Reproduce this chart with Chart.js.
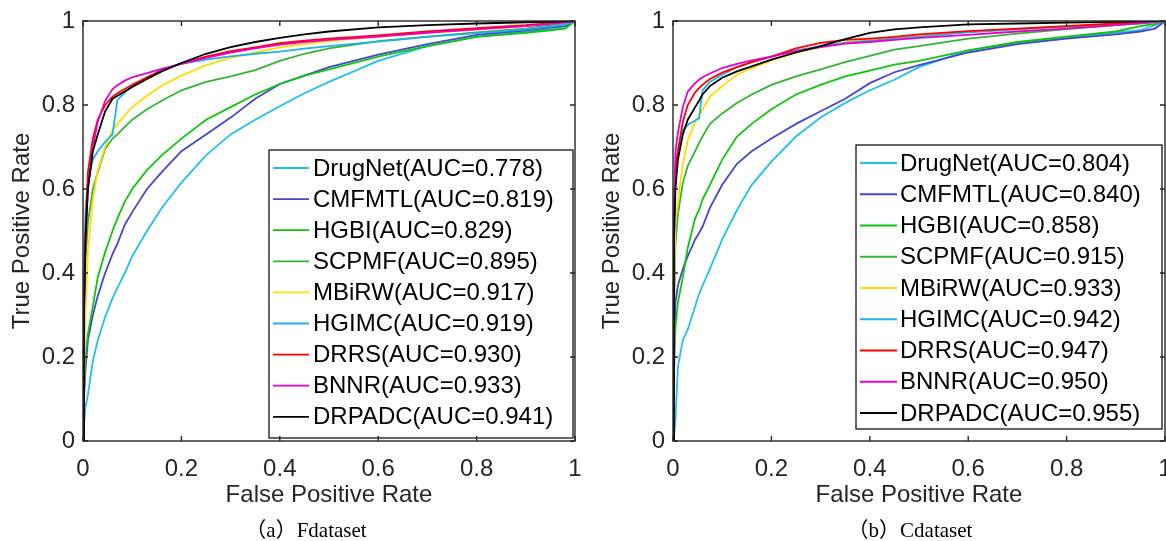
<!DOCTYPE html>
<html>
<head>
<meta charset="utf-8">
<script src="https://cdn.jsdelivr.net/npm/chart.js@4.4.1/dist/chart.umd.min.js"></script>
<style>
  body { margin: 0; background: #fff; }
  #page { position: relative; width: 1166px; height: 541px; overflow: hidden; background: #fff; }
  canvas { position: absolute; top: 0; }
  #cF { left: 0; }
  #cC { left: 583px; }
  .cap {
    position: absolute; top: 513px; transform: translateX(-50%);
    font: 21px "Liberation Serif", "Noto Sans CJK SC", serif; color: #000; white-space: nowrap;
  }
</style>
</head>
<body>
<div id="page">
  <canvas id="cF" width="583" height="541"></canvas>
  <canvas id="cC" width="583" height="541"></canvas>
  <div class="cap" style="left:306px">（a）Fdataset</div>
  <div class="cap" style="left:910px">（b）Cdataset</div>
</div>
<script>
const METHODS = ["DrugNet", "CMFMTL", "HGBI", "SCPMF", "MBiRW", "HGIMC", "DRRS", "BNNR", "DRPADC"];
const COLORS = ["#22c0ea", "#4646cf", "#0fc40f", "#36b336", "#ffdd00", "#1fb2e6", "#ff0000", "#e800c8", "#000000"];
const AUC_F = [0.778, 0.819, 0.829, 0.895, 0.917, 0.919, 0.930, 0.933, 0.941];
const AUC_C = [0.804, 0.840, 0.858, 0.915, 0.933, 0.942, 0.947, 0.950, 0.955];
const TICKS = [0, 0.2, 0.4, 0.6, 0.8, 1];

// Fdataset: false positive rate grid and true positive rate per method
const FPR_F = [0, 0.002, 0.005, 0.01, 0.02, 0.03, 0.045, 0.06, 0.07, 0.085, 0.1, 0.13, 0.16, 0.2, 0.25, 0.3, 0.35, 0.4, 0.45, 0.5, 0.6, 0.7, 0.8, 0.9, 0.95, 0.98, 1];
const F_DRUGNET = [0, 0.04, 0.08, 0.11, 0.19, 0.24, 0.295, 0.34, 0.365, 0.40, 0.44, 0.50, 0.555, 0.615, 0.68, 0.73, 0.765, 0.797, 0.828, 0.855, 0.905, 0.94, 0.963, 0.975, 0.98, 0.983, 1];
const F_CMFMTL = [0, 0.10, 0.17, 0.24, 0.30, 0.345, 0.40, 0.445, 0.47, 0.515, 0.545, 0.60, 0.64, 0.69, 0.73, 0.77, 0.815, 0.85, 0.87, 0.89, 0.92, 0.945, 0.967, 0.978, 0.984, 0.988, 1];
const F_HGBI = [0, 0.12, 0.20, 0.255, 0.32, 0.39, 0.45, 0.50, 0.53, 0.57, 0.60, 0.645, 0.68, 0.72, 0.765, 0.795, 0.825, 0.85, 0.87, 0.885, 0.915, 0.94, 0.962, 0.972, 0.978, 0.982, 1];
const F_SCPMF = [0, 0.25, 0.43, 0.52, 0.60, 0.64, 0.695, 0.72, 0.73, 0.748, 0.765, 0.79, 0.81, 0.835, 0.855, 0.868, 0.883, 0.905, 0.922, 0.935, 0.952, 0.963, 0.973, 0.982, 0.99, 0.995, 1];
const F_MBIRW = [0, 0.15, 0.30, 0.45, 0.575, 0.645, 0.70, 0.74, 0.755, 0.775, 0.795, 0.822, 0.846, 0.87, 0.895, 0.912, 0.925, 0.937, 0.945, 0.952, 0.963, 0.972, 0.98, 0.988, 0.993, 0.997, 1];
const F_HGIMC = [0, 0.35, 0.55, 0.62, 0.67, 0.69, 0.712, 0.73, 0.812, 0.83, 0.845, 0.865, 0.885, 0.898, 0.908, 0.916, 0.922, 0.927, 0.934, 0.94, 0.951, 0.962, 0.971, 0.98, 0.987, 0.992, 1];
const F_DRRS = [0, 0.33, 0.50, 0.64, 0.72, 0.765, 0.80, 0.82, 0.828, 0.838, 0.848, 0.866, 0.882, 0.90, 0.915, 0.928, 0.937, 0.947, 0.953, 0.958, 0.966, 0.975, 0.983, 0.99, 0.995, 0.998, 1];
const F_BNNR = [0, 0.30, 0.48, 0.60, 0.70, 0.76, 0.81, 0.838, 0.847, 0.858, 0.866, 0.876, 0.886, 0.898, 0.912, 0.925, 0.935, 0.944, 0.95, 0.955, 0.963, 0.972, 0.98, 0.988, 0.993, 0.997, 1];
const F_DRPADC = [0, 0.30, 0.48, 0.60, 0.69, 0.73, 0.785, 0.815, 0.822, 0.832, 0.843, 0.862, 0.88, 0.90, 0.922, 0.938, 0.95, 0.96, 0.968, 0.975, 0.985, 0.99, 0.994, 0.997, 0.998, 0.999, 1];

// Cdataset
const FPR_C = [0, 0.002, 0.005, 0.01, 0.02, 0.03, 0.045, 0.053, 0.06, 0.075, 0.1, 0.13, 0.16, 0.2, 0.25, 0.3, 0.35, 0.4, 0.45, 0.5, 0.6, 0.7, 0.8, 0.9, 0.95, 0.98, 1];
const C_DRUGNET = [0, 0.01, 0.05, 0.177, 0.24, 0.265, 0.32, 0.35, 0.37, 0.41, 0.48, 0.55, 0.61, 0.665, 0.725, 0.77, 0.805, 0.835, 0.86, 0.89, 0.93, 0.948, 0.96, 0.972, 0.978, 0.99, 1];
const C_CMFMTL = [0, 0.15, 0.33, 0.37, 0.41, 0.44, 0.48, 0.495, 0.51, 0.555, 0.61, 0.66, 0.69, 0.72, 0.755, 0.785, 0.815, 0.852, 0.878, 0.895, 0.925, 0.945, 0.958, 0.968, 0.975, 0.982, 1];
const C_HGBI = [0, 0.21, 0.27, 0.33, 0.39, 0.46, 0.53, 0.55, 0.575, 0.61, 0.67, 0.725, 0.755, 0.79, 0.825, 0.848, 0.868, 0.882, 0.896, 0.905, 0.93, 0.95, 0.963, 0.975, 0.988, 0.993, 1];
const C_SCPMF = [0, 0.30, 0.47, 0.54, 0.614, 0.655, 0.69, 0.71, 0.725, 0.755, 0.78, 0.805, 0.825, 0.848, 0.868, 0.885, 0.902, 0.917, 0.932, 0.94, 0.958, 0.97, 0.981, 0.99, 0.994, 0.997, 1];
const C_MBIRW = [0, 0.35, 0.52, 0.57, 0.66, 0.715, 0.76, 0.775, 0.79, 0.82, 0.845, 0.872, 0.888, 0.906, 0.925, 0.938, 0.949, 0.956, 0.962, 0.966, 0.974, 0.981, 0.988, 0.994, 0.997, 0.999, 1];
const C_HGIMC = [0, 0.50, 0.64, 0.693, 0.74, 0.753, 0.763, 0.768, 0.835, 0.855, 0.872, 0.89, 0.902, 0.915, 0.93, 0.94, 0.948, 0.953, 0.958, 0.963, 0.973, 0.98, 0.986, 0.992, 0.995, 0.998, 1];
const C_DRRS = [0, 0.52, 0.65, 0.69, 0.76, 0.80, 0.83, 0.84, 0.848, 0.862, 0.877, 0.89, 0.902, 0.915, 0.935, 0.948, 0.955, 0.958, 0.962, 0.968, 0.976, 0.982, 0.988, 0.994, 0.997, 0.999, 1];
const C_BNNR = [0, 0.55, 0.69, 0.735, 0.795, 0.832, 0.852, 0.86, 0.866, 0.875, 0.888, 0.898, 0.906, 0.915, 0.928, 0.938, 0.946, 0.95, 0.955, 0.96, 0.967, 0.975, 0.982, 0.99, 0.995, 0.998, 1];
const C_DRPADC = [0, 0.48, 0.60, 0.67, 0.73, 0.765, 0.795, 0.81, 0.825, 0.845, 0.865, 0.88, 0.892, 0.908, 0.925, 0.94, 0.957, 0.972, 0.98, 0.985, 0.992, 0.994, 0.996, 0.998, 0.999, 1, 1];

const TPR_F = [F_DRUGNET, F_CMFMTL, F_HGBI, F_SCPMF, F_MBIRW, F_HGIMC, F_DRRS, F_BNNR, F_DRPADC];
const TPR_C = [C_DRUGNET, C_CMFMTL, C_HGBI, C_SCPMF, C_MBIRW, C_HGIMC, C_DRRS, C_BNNR, C_DRPADC];

const AXIS_COLOR = "#262626";
const FAMILY = '"Liberation Sans", Arial, Helvetica, sans-serif';
const FONT_SIZE = 24;

// legend box + matlab-style frame with inward ticks on all four sides
const rocFrame = {
  id: "rocFrame",
  afterDraw(chart, args, opts) {
    const { ctx, chartArea: a, scales } = chart;
    const b = opts.box;
    ctx.save();

    ctx.fillStyle = "#fff";
    ctx.fillRect(b.left, b.top, b.right - b.left, b.bottom - b.top);
    ctx.strokeStyle = AXIS_COLOR;
    ctx.lineWidth = 1.4;
    ctx.strokeRect(b.left, b.top, b.right - b.left, b.bottom - b.top);

    ctx.font = `${FONT_SIZE}px ${FAMILY}`;
    ctx.textAlign = "left";
    ctx.textBaseline = "middle";
    chart.data.datasets.forEach((ds, i) => {
      const yy = b.rowTop + i * b.rowStep;
      ctx.strokeStyle = ds.borderColor;
      ctx.lineWidth = 1.8;
      ctx.beginPath();
      ctx.moveTo(b.lineFrom, yy);
      ctx.lineTo(b.lineTo, yy);
      ctx.stroke();
      ctx.fillStyle = "#000";
      ctx.fillText(ds.label, b.textX, yy + 1);
    });

    ctx.strokeStyle = AXIS_COLOR;
    ctx.lineWidth = 1.4;
    ctx.strokeRect(a.left, a.top, a.right - a.left, a.bottom - a.top);
    const t = 5;
    ctx.beginPath();
    scales.x.ticks.forEach(tk => {
      const px = scales.x.getPixelForValue(tk.value);
      ctx.moveTo(px, a.bottom); ctx.lineTo(px, a.bottom - t);
      ctx.moveTo(px, a.top); ctx.lineTo(px, a.top + t);
    });
    scales.y.ticks.forEach(tk => {
      const py = scales.y.getPixelForValue(tk.value);
      ctx.moveTo(a.left, py); ctx.lineTo(a.left + t, py);
      ctx.moveTo(a.right, py); ctx.lineTo(a.right - t, py);
    });
    ctx.stroke();
    ctx.restore();
  }
};

function fmt(v) {
  return String(+Number(v).toFixed(1));
}

function makeRoc(canvasId, fpr, tprs, aucs, cfg) {
  const datasets = METHODS.map((name, i) => ({
    label: `${name}(AUC=${aucs[i].toFixed(3)})`,
    data: fpr.map((x, j) => ({ x: x, y: tprs[i][j] })),
    borderColor: COLORS[i],
    borderWidth: 1.8,
    pointRadius: 0,
    fill: false,
    tension: 0,
    order: METHODS.length - 1 - i
  }));

  const tickFont = { family: FAMILY, size: FONT_SIZE };

  return new Chart(document.getElementById(canvasId), {
    type: "line",
    data: { datasets: datasets },
    options: {
      responsive: false,
      animation: false,
      events: [],
      layout: { padding: { top: 21, right: cfg.rightPad, left: 0, bottom: 0 } },
      plugins: {
        legend: { display: false },
        tooltip: { enabled: false },
        rocFrame: { box: cfg.box }
      },
      scales: {
        x: {
          type: "linear", min: 0, max: 1,
          afterBuildTicks: s => { s.ticks = TICKS.map(v => ({ value: v })); },
          afterFit: s => { s.height = 100; s.paddingLeft = 0; s.paddingRight = 0; },
          grid: { display: false, drawTicks: false },
          border: { display: false },
          ticks: { font: tickFont, color: AXIS_COLOR, padding: 14, maxRotation: 0, autoSkip: false, callback: fmt },
          title: { display: true, text: "False Positive Rate", font: tickFont, color: AXIS_COLOR, padding: { top: 0, bottom: 31 } }
        },
        y: {
          type: "linear", min: 0, max: 1,
          afterBuildTicks: s => { s.ticks = TICKS.map(v => ({ value: v })); },
          afterFit: s => { s.width = cfg.yWidth; s.paddingTop = 0; s.paddingBottom = 0; },
          grid: { display: false, drawTicks: false },
          border: { display: false },
          ticks: { font: tickFont, color: AXIS_COLOR, padding: 8, autoSkip: false, callback: fmt },
          title: { display: true, text: "True Positive Rate", font: tickFont, color: AXIS_COLOR, padding: { top: cfg.titlePad, bottom: 0 } }
        }
      }
    },
    plugins: [rocFrame]
  });
}

makeRoc("cF", FPR_F, TPR_F, AUC_F, {
  yWidth: 83, rightPad: 8, titlePad: 8,
  box: { left: 269, top: 150, right: 573, bottom: 438, rowTop: 168, rowStep: 31.1, lineFrom: 273, lineTo: 309, textX: 313 }
});

makeRoc("cC", FPR_C, TPR_C, AUC_C, {
  yWidth: 90, rightPad: 1, titlePad: 15,
  box: { left: 273, top: 145, right: 579, bottom: 429, rowTop: 163, rowStep: 31.25, lineFrom: 277, lineTo: 314, textX: 317 }
});
</script>
</body>
</html>
